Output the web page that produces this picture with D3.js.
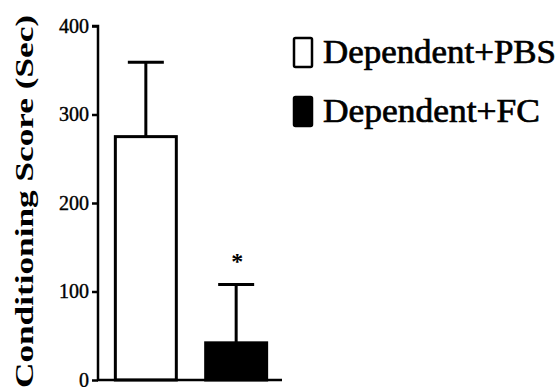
<!DOCTYPE html>
<html><head><meta charset="utf-8">
<script src="https://cdn.jsdelivr.net/npm/d3@7"></script>
<style>body{margin:0;background:#fff}svg{display:block}</style>
</head><body>
<svg id="c" width="560" height="387"></svg>
<script>
const groups = ["Dependent+PBS", "Dependent+FC"];
const means = [275, 42];
const errors = [84, 66];
const fills = ["#ffffff", "#000000"];
const yTicks = [0, 100, 200, 300, 400];
const yTitle = "Conditioning Score (Sec)";
const sigMarks = ["", "*"];

const svg = d3.select("#c");
const font = "'Liberation Serif','DejaVu Serif',serif";
const y = d3.scaleLinear().domain([0, 400]).range([380, 26]);
const x = d3.scaleBand().domain(groups).range([100, 282]).paddingInner(0.325).paddingOuter(0.17);

// bars
svg.selectAll("rect.bar").data(groups).join("rect")
  .attr("x", d => x(d)).attr("width", x.bandwidth())
  .attr("y", (d, i) => y(means[i])).attr("height", (d, i) => y(0) - y(means[i]))
  .attr("fill", (d, i) => fills[i]).attr("stroke", "#000").attr("stroke-width", 3);

// error bars
const cw = 36;
groups.forEach((g, i) => {
  const cx = x(g) + x.bandwidth() / 2;
  svg.append("line").attr("x1", cx).attr("x2", cx).attr("y1", y(means[i])).attr("y2", y(means[i] + errors[i]))
    .attr("stroke", "#000").attr("stroke-width", 3);
  svg.append("line").attr("x1", cx - cw / 2).attr("x2", cx + cw / 2).attr("y1", y(means[i] + errors[i])).attr("y2", y(means[i] + errors[i]))
    .attr("stroke", "#000").attr("stroke-width", 3);
  if (sigMarks[i]) {
    svg.append("text").attr("x", cx + 1).attr("y", y(means[i] + errors[i]) - 15)
      .attr("text-anchor", "middle").attr("font-family", font).attr("font-size", 24).attr("font-weight", "bold")
      .text(sigMarks[i]);
  }
});

// y axis
const ax = svg.append("g").attr("transform", "translate(98,0)")
  .call(d3.axisLeft(y).tickValues(yTicks).tickSize(6).tickPadding(3).tickFormat(d3.format("d")));
ax.select(".domain").attr("stroke-width", 2.5).attr("d", `M-6,${y(400)}H0V${y(0)}`);
ax.selectAll(".tick line").attr("stroke-width", 2.5);
ax.selectAll(".tick text").attr("font-family", font).attr("font-size", 20).attr("fill", "#000")
  .attr("stroke", "#000").attr("stroke-width", 0.4);

// x baseline
svg.append("line").attr("x1", 97).attr("x2", 282).attr("y1", y(0)).attr("y2", y(0))
  .attr("stroke", "#000").attr("stroke-width", 2.5);

// y title
svg.append("text").attr("transform", "translate(33,388) rotate(-90)")
  .attr("font-family", font).attr("font-size", 25).attr("font-weight", "bold")
  .attr("textLength", 373).attr("lengthAdjust", "spacingAndGlyphs")
  .text(yTitle);

// legend
const leg = svg.append("g");
groups.forEach((g, i) => {
  const top = 38 + i * 59;
  leg.append("rect").attr("x", 294).attr("y", top).attr("width", 18).attr("height", 29)
    .attr("fill", fills[i]).attr("stroke", "#000").attr("stroke-width", 2.5).attr("rx", 1.5);
  leg.append("text").attr("x", 323).attr("y", top + 25)
    .attr("font-family", font).attr("font-size", 33)
    .attr("stroke", "#000").attr("stroke-width", 0.7)
    .attr("textLength", i === 0 ? 233 : 217).attr("lengthAdjust", "spacingAndGlyphs")
    .text(g);
});
</script>
</body></html>
